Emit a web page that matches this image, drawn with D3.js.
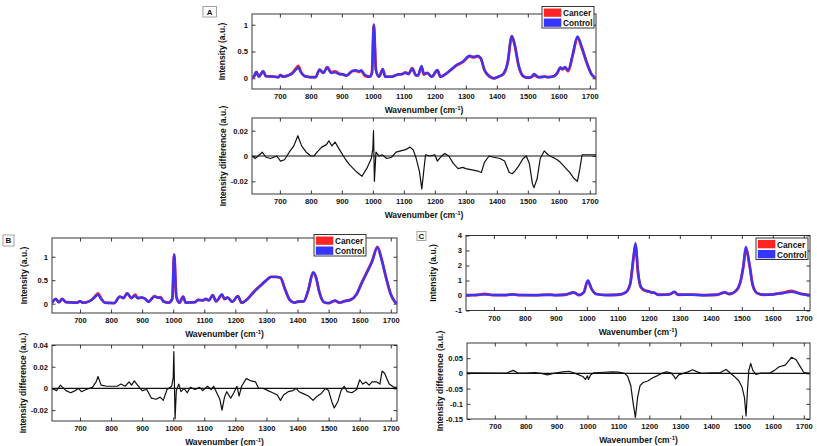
<!DOCTYPE html>
<html><head><meta charset="utf-8">
<script src="https://cdn.jsdelivr.net/npm/d3@7"></script>
<style>
body{margin:0;background:#fff}
text{font-family:"Liberation Sans",Arial,Helvetica,sans-serif;font-weight:bold;fill:#111}
</style>
</head><body>
<svg id="chart" width="817" height="446"></svg>
<script>
// ---------------- DATA ----------------
const xTicks = [700, 800, 900, 1000, 1100, 1200, 1300, 1400, 1500, 1600, 1700];
const xDomain = [610, 1720];
const seriesNames = ["Cancer", "Control"];

// Panel A – mean spectra
const wnA = [611,616,624,632,646,655,680,695,702,710,725,740,750,759,768,780,800,815,828,840,853,865,878,890,905,915,935,945,955,962,975,990,997,1003,1010,1020,1032,1040,1060,1080,1095,1105,1115,1127,1138,1145,1157,1165,1175,1190,1208,1218,1230,1250,1270,1290,1312,1325,1338,1348,1360,1375,1390,1405,1420,1435,1448,1458,1470,1485,1500,1510,1520,1535,1555,1565,1585,1595,1605,1612,1620,1630,1645,1660,1675,1690,1705,1720];
const controlA = [0.02,0.03,0.12,0.03,0.13,0.04,0.03,0.02,0.06,0.03,0.05,0.09,0.15,0.2,0.11,0.04,0.02,0.02,0.16,0.1,0.2,0.1,0.11,0.08,0.07,0.05,0.14,0.15,0.13,0.15,0.06,0.03,0.1,1.0,0.15,0.03,0.17,0.03,0.03,0.07,0.08,0.1,0.08,0.18,0.06,0.05,0.23,0.08,0.1,0.03,0.15,0.03,0.06,0.15,0.25,0.31,0.42,0.4,0.42,0.38,0.16,0.04,0.0,0.03,0.08,0.3,0.79,0.62,0.25,0.04,0.01,0.02,0.08,0.02,0.03,0.02,0.04,0.1,0.2,0.17,0.21,0.15,0.45,0.78,0.57,0.3,0.08,0.0];
const cancerA  = [0.02,0.03,0.12,0.03,0.13,0.04,0.03,0.02,0.06,0.03,0.05,0.1,0.17,0.23,0.12,0.04,0.02,0.02,0.16,0.1,0.21,0.11,0.13,0.09,0.07,0.05,0.14,0.14,0.12,0.14,0.04,0.03,0.1,1.0,0.15,0.03,0.17,0.03,0.03,0.07,0.08,0.11,0.08,0.19,0.06,0.05,0.2,0.07,0.1,0.03,0.15,0.03,0.06,0.15,0.24,0.3,0.41,0.39,0.41,0.37,0.15,0.04,0.0,0.03,0.07,0.29,0.78,0.61,0.24,0.04,0.01,0.02,0.055,0.02,0.03,0.02,0.04,0.1,0.2,0.17,0.2,0.13,0.43,0.76,0.55,0.29,0.08,0.0];
// Panel A – difference (cancer − control)
const diffWnA = [611,620,630,643,655,670,690,702,715,730,745,758,770,785,800,810,820,835,850,858,868,878,890,900,910,925,945,965,980,995,1000,1002,1005,1010,1020,1030,1045,1060,1075,1090,1105,1120,1130,1140,1150,1158,1165,1170,1185,1200,1208,1218,1232,1245,1260,1275,1290,1300,1320,1340,1350,1360,1375,1390,1410,1425,1440,1450,1458,1470,1485,1495,1505,1515,1520,1530,1540,1553,1565,1580,1595,1605,1620,1635,1650,1660,1668,1675,1690,1720];
const diffA = [0,-0.002,0,0.003,-0.001,-0.002,0,-0.004,-0.003,0.003,0.008,0.016,0.008,0.003,0,0,0.003,0.007,0.009,0.012,0.008,0.011,0.006,0.002,-0.002,-0.007,-0.012,-0.016,-0.01,-0.002,0.006,0.02,-0.02,0.003,0,0.001,-0.002,-0.001,0.003,0.004,0.005,0.007,0.005,-0.002,-0.012,-0.026,-0.01,0.001,0,0.001,-0.004,-0.001,0.002,0,-0.006,-0.01,-0.009,-0.01,-0.011,-0.012,-0.013,-0.005,0,-0.001,-0.002,-0.004,-0.013,-0.014,-0.012,-0.008,-0.002,0,-0.006,-0.022,-0.025,-0.018,-0.002,0.004,0.001,-0.001,-0.003,-0.005,-0.009,-0.013,-0.018,-0.02,-0.01,0.001,0.001,0.001];

// Panel B – mean spectra
const wnB = [610,622,632,643,655,690,700,710,730,745,758,768,780,810,828,840,852,865,878,885,900,910,920,940,950,960,968,985,997,1003,1010,1020,1032,1040,1070,1080,1095,1105,1115,1127,1138,1157,1165,1175,1190,1208,1220,1240,1260,1280,1300,1315,1330,1345,1360,1375,1390,1400,1420,1435,1450,1460,1470,1485,1500,1520,1535,1555,1570,1590,1605,1620,1640,1657,1670,1685,1700,1712,1720];
const controlB = [0.02,0.1,0.03,0.1,0.03,0.02,0.05,0.02,0.05,0.12,0.19,0.1,0.02,0.01,0.15,0.12,0.22,0.12,0.17,0.12,0.13,0.1,0.04,0.15,0.13,0.12,0.05,0.02,0.1,1.05,0.15,0.02,0.15,0.02,0.03,0.08,0.07,0.1,0.07,0.18,0.05,0.2,0.1,0.13,0.04,0.16,0.02,0.1,0.25,0.38,0.5,0.57,0.57,0.56,0.3,0.08,0.02,0.04,0.05,0.3,0.67,0.55,0.25,0.03,0.01,0.07,0.02,0.06,0.08,0.2,0.42,0.62,0.9,1.2,0.95,0.55,0.2,0.05,0.0];
const cancerB  = [0.02,0.1,0.03,0.1,0.03,0.02,0.05,0.02,0.05,0.13,0.22,0.11,0.02,0.01,0.15,0.12,0.22,0.12,0.19,0.12,0.13,0.1,0.04,0.16,0.13,0.14,0.05,0.02,0.1,1.05,0.15,0.02,0.15,0.02,0.03,0.08,0.07,0.1,0.07,0.18,0.05,0.18,0.1,0.13,0.04,0.16,0.02,0.11,0.26,0.38,0.5,0.57,0.57,0.55,0.3,0.08,0.02,0.04,0.05,0.3,0.66,0.54,0.25,0.03,0.01,0.06,0.02,0.06,0.08,0.2,0.42,0.63,0.91,1.21,0.96,0.55,0.2,0.05,0.0];
// Panel B – difference
const diffWnB = [610,625,637,655,670,685,695,705,720,740,752,758,768,785,800,820,832,845,858,866,875,885,900,915,930,945,958,968,980,995,1000,1002,1006,1010,1018,1025,1035,1045,1055,1070,1085,1095,1110,1122,1130,1140,1150,1157,1165,1172,1185,1195,1205,1212,1220,1235,1250,1265,1275,1290,1305,1320,1335,1345,1355,1370,1385,1395,1405,1420,1435,1450,1460,1475,1490,1500,1510,1518,1530,1540,1550,1560,1575,1590,1600,1610,1620,1630,1640,1655,1665,1672,1680,1695,1710,1720];
const diffB = [0,-0.002,0.003,-0.002,-0.004,-0.002,0,-0.003,-0.001,0.001,0.006,0.011,0.003,0.002,0.002,0.002,0.004,0.002,0.006,0.003,0.007,0.003,-0.002,-0.001,-0.009,-0.01,-0.008,-0.011,-0.001,0.002,0.01,0.034,-0.028,-0.002,0.004,-0.003,0,-0.004,0.001,-0.001,0.001,-0.002,0.002,-0.001,0.002,-0.004,-0.01,-0.02,-0.008,-0.003,-0.009,-0.004,0.002,-0.007,0.002,0.009,0.007,0.006,0,0,-0.002,-0.004,-0.006,-0.011,-0.006,-0.003,-0.002,0,-0.003,-0.005,-0.007,-0.011,-0.008,-0.005,0,-0.002,-0.012,-0.018,-0.012,-0.002,0.002,-0.003,-0.004,-0.001,0.008,0.004,0.006,0.003,0.006,0.006,0.004,0.016,0.014,0.004,0.001,0.001];

// Panel C – mean spectra
const wnC = [610,640,670,700,740,760,780,830,880,900,930,958,975,990,1003,1015,1030,1060,1100,1125,1140,1150,1157,1165,1175,1190,1200,1210,1215,1230,1260,1270,1282,1295,1340,1380,1420,1445,1460,1480,1495,1505,1513,1525,1535,1550,1570,1600,1630,1660,1690,1720];
const controlC = [0.02,0.03,0.08,0.03,0.03,0.07,0.03,0.02,0.05,0.02,0.05,0.2,0.03,0.22,1.0,0.45,0.1,0.03,0.05,0.2,0.8,2.5,3.5,1.6,0.55,0.32,0.28,0.2,0.2,0.05,0.06,0.1,0.25,0.05,0.05,0.02,0.05,0.2,0.1,0.3,0.9,2.0,3.25,2.0,0.7,0.15,0.05,0.07,0.15,0.25,0.1,0.02];
const cancerC  = [0.02,0.03,0.1,0.03,0.03,0.08,0.03,0.02,0.05,0.02,0.05,0.2,0.03,0.2,0.98,0.44,0.1,0.03,0.05,0.2,0.78,2.4,3.35,1.5,0.52,0.3,0.27,0.19,0.19,0.05,0.06,0.1,0.23,0.05,0.06,0.02,0.05,0.21,0.1,0.28,0.86,1.92,3.1,2.03,0.71,0.15,0.05,0.08,0.18,0.3,0.12,0.02];
// Panel C – difference
const diffWnC = [610,700,740,760,775,800,830,850,870,890,920,940,960,985,993,1000,1003,1010,1020,1040,1080,1100,1120,1130,1140,1148,1155,1162,1170,1180,1195,1210,1225,1240,1255,1270,1280,1285,1295,1310,1325,1340,1355,1370,1400,1430,1448,1460,1475,1490,1500,1508,1513,1518,1522,1528,1535,1545,1560,1590,1605,1620,1640,1660,1675,1690,1700,1720];
const diffC = [0.002,0.001,0.002,0.01,0.001,0.001,0.003,0,-0.005,0,0.005,0.007,0,-0.01,-0.02,-0.008,-0.02,-0.005,0.002,0.003,0.005,0.004,0,-0.01,-0.04,-0.1,-0.145,-0.08,-0.04,-0.03,-0.025,-0.015,-0.008,0,0.005,0.002,-0.01,-0.018,-0.005,0,0.005,0.012,0.005,0,0.002,0.003,0.013,0.003,-0.01,-0.025,-0.045,-0.08,-0.14,-0.05,0.01,0.033,0.01,-0.003,0.001,0.001,0.01,0.022,0.027,0.053,0.045,0.02,0.003,0];

// axis ranges & ticks
const yDomA = [-0.2, 1.2], yTicksA = [0, 0.5, 1];
const yDomAd = [-0.03, 0.03], yTicksAd = [-0.02, 0, 0.02];
const yDomB = [-0.2, 1.4], yTicksB = [0, 0.5, 1];
const yDomBd = [-0.03, 0.04], yTicksBd = [-0.02, 0, 0.02, 0.04];
const yDomC = [-1, 4], yTicksC = [-1, 0, 1, 2, 3, 4];
const yDomCd = [-0.15, 0.1], yTicksCd = [-0.15, -0.1, -0.05, 0, 0.05];

// ---------------- LAYOUT / STYLE ----------------
const RED = "#ff2424", BLUE = "#3535ff";
const svg = d3.select("#chart");
let clipId = 0;

function fmt(d) { return String(+d.toFixed(4)).replace("\u2212", "-"); }

function frame(box, yDom, yTicks, ylab, ylabX) {
  const x = d3.scaleLinear().domain(xDomain).range([box.x0, box.x1]);
  const y = d3.scaleLinear().domain(yDom).range([box.y1, box.y0]);
  const g = svg.append("g");
  const T = 3.5;
  const gb = g.append("g").attr("transform", `translate(0,${box.y1})`)
    .call(d3.axisBottom(x).tickValues(xTicks).tickSize(-T).tickPadding(5).tickFormat(fmt));
  const gt = g.append("g").attr("transform", `translate(0,${box.y0})`)
    .call(d3.axisTop(x).tickValues(xTicks).tickSize(-T).tickFormat(""));
  const gl = g.append("g").attr("transform", `translate(${box.x0},0)`)
    .call(d3.axisLeft(y).tickValues(yTicks).tickSize(-T).tickPadding(4).tickFormat(fmt));
  const gr = g.append("g").attr("transform", `translate(${box.x1},0)`)
    .call(d3.axisRight(y).tickValues(yTicks).tickSize(-T).tickFormat(""));
  [gb, gt, gl, gr].forEach(a => {
    a.select(".domain").remove();
    a.selectAll(".tick line").attr("stroke", "#222").attr("stroke-width", 0.9);
    a.selectAll("text").attr("font-size", 7.6).attr("fill", "#111")
      .attr("font-family", "Liberation Sans, Arial, sans-serif").attr("font-weight", "bold");
  });
  g.append("rect").attr("x", box.x0).attr("y", box.y0)
    .attr("width", box.x1 - box.x0).attr("height", box.y1 - box.y0)
    .attr("fill", "none").attr("stroke", "#222").attr("stroke-width", 0.9);
  const xl = g.append("text").attr("x", (box.x0 + box.x1) / 2).attr("y", box.y1 + 24)
    .attr("text-anchor", "middle").attr("font-size", 8.5);
  xl.append("tspan").text("Wavenumber (cm");
  xl.append("tspan").attr("dy", -3).attr("font-size", 6).text("-1");
  xl.append("tspan").attr("dy", 3).text(")");
  g.append("text").attr("transform", `translate(${ylabX},${(box.y0 + box.y1) / 2}) rotate(-90)`)
    .attr("text-anchor", "middle").attr("dy", "0.35em").attr("font-size", 8.5).text(ylab);
  const id = "clip" + (clipId++);
  svg.append("clipPath").attr("id", id).append("rect")
    .attr("x", box.x0).attr("y", box.y0).attr("width", box.x1 - box.x0).attr("height", box.y1 - box.y0);
  return { x, y, g, clip: `url(#${id})` };
}

function spectrum(box, wn, control, cancer, yDom, yTicks, ylabX, legendPos) {
  const f = frame(box, yDom, yTicks, "Intensity (a.u.)", ylabX);
  const line = vals => d3.line().curve(d3.curveMonotoneX)
    .x((d, i) => f.x(wn[i])).y((d, i) => f.y(vals[i]))(vals);
  const pg = svg.append("g").attr("clip-path", f.clip);
  pg.append("path").attr("d", line(cancer)).attr("fill", "none").attr("stroke", RED)
    .attr("stroke-width", 2.8).attr("stroke-linejoin", "round");
  pg.append("path").attr("d", line(control)).attr("fill", "none").attr("stroke", BLUE)
    .attr("stroke-width", 2.4).attr("stroke-linejoin", "round").attr("opacity", 0.95);
  const L = legendPos;
  const lg = svg.append("g");
  lg.append("rect").attr("x", L.x).attr("y", L.y).attr("width", L.w).attr("height", 21.5)
    .attr("fill", "#fff").attr("stroke", "#222").attr("stroke-width", 0.9);
  [RED, BLUE].forEach((c, i) => {
    lg.append("rect").attr("x", L.x + 1.8).attr("y", L.y + 2 + i * 10).attr("width", 17.5).attr("height", 8.3).attr("fill", c);
    lg.append("text").attr("x", L.x + 21).attr("y", L.y + 9.6 + i * 10).attr("font-size", 8.3).text(seriesNames[i]);
  });
}

function difference(box, wn, diff, yDom, yTicks, ylabX) {
  const f = frame(box, yDom, yTicks, "Intensity difference (a.u.)", ylabX);
  const pg = svg.append("g").attr("clip-path", f.clip);
  pg.append("line").attr("x1", box.x0).attr("x2", box.x1).attr("y1", f.y(0)).attr("y2", f.y(0))
    .attr("stroke", "#111").attr("stroke-width", 1.2);
  pg.append("path").attr("d", d3.line().curve(d3.curveLinear)
      .x((d, i) => f.x(wn[i])).y((d, i) => f.y(diff[i]))(diff))
    .attr("fill", "none").attr("stroke", "#111").attr("stroke-width", 1.2).attr("stroke-linejoin", "round");
}

function panelLabel(x, y, w, h, t) {
  svg.append("rect").attr("x", x).attr("y", y).attr("width", w).attr("height", h)
    .attr("fill", "#fff").attr("stroke", "#999").attr("stroke-width", 0.9);
  svg.append("text").attr("x", x + w / 2).attr("y", y + h / 2).attr("dy", "0.36em")
    .attr("text-anchor", "middle").attr("font-size", 8).text(t);
}

// Panel A
spectrum({x0: 252, x1: 596, y0: 14, y1: 89}, wnA, controlA, cancerA, yDomA, yTicksA, 222, {x: 542, y: 6.5, w: 52});
difference({x0: 252, x1: 596, y0: 118, y1: 194}, diffWnA, diffA, yDomAd, yTicksAd, 223);
panelLabel(203, 6.5, 13.5, 10.5, "A");
// Panel B
spectrum({x0: 52, x1: 397, y0: 238, y1: 313}, wnB, controlB, cancerB, yDomB, yTicksB, 24, {x: 314, y: 234.5, w: 52});
difference({x0: 52, x1: 397, y0: 345, y1: 421}, diffWnB, diffB, yDomBd, yTicksBd, 23);
panelLabel(3, 235, 11, 11, "B");
// Panel C
spectrum({x0: 466, x1: 810, y0: 235.5, y1: 310.5}, wnC, controlC, cancerC, yDomC, yTicksC, 433, {x: 756, y: 238, w: 52});
difference({x0: 467, x1: 810, y0: 343, y1: 419}, diffWnC, diffC, yDomCd, yTicksCd, 440);
panelLabel(417, 231.5, 9, 9, "C");
</script>
</body></html>
